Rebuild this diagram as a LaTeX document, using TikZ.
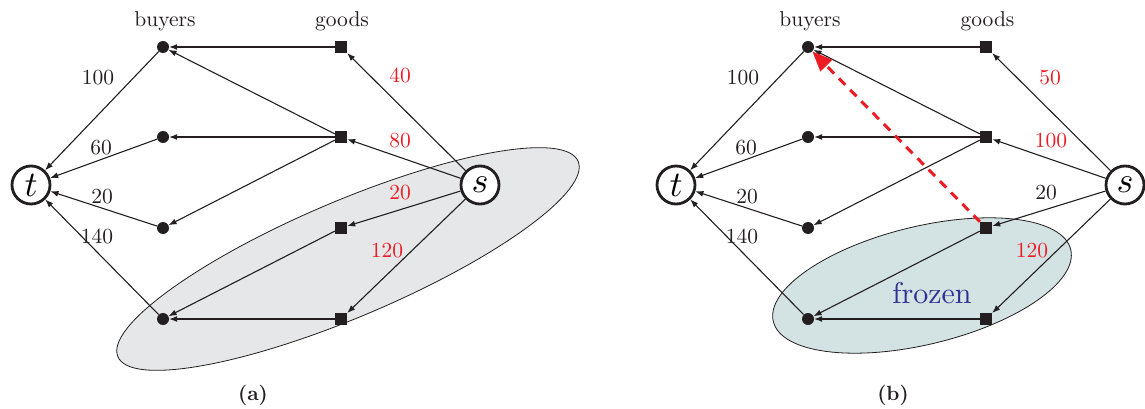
\documentclass[tikz,border=0pt]{standalone}
\usepackage{fontspec}
\setmainfont{lmroman10-regular.otf}[BoldFont=lmroman10-bold.otf, ItalicFont=lmroman10-italic.otf]
\usetikzlibrary{arrows.meta}
\font\termfont=cmmi10 at 36pt
\definecolor{ink}{RGB}{35,31,32}
\definecolor{lbred}{RGB}{237,28,36}
\definecolor{greyfill}{RGB}{230,231,232}
\definecolor{frozenfill}{RGB}{211,226,226}
\definecolor{frozenblue}{RGB}{46,49,146}
\begin{document}
\begin{tikzpicture}[x=1pt,y=-1pt,
  buyer/.style={circle, fill=ink, inner sep=0pt, minimum size=12pt},
  good/.style={rectangle, fill=ink, inner sep=0pt, minimum size=12pt},
  term/.style={circle, draw=ink, line width=2.8pt, fill=white, inner sep=0pt, minimum size=38pt, font=\termfont},
  flow/.style={-{Latex[length=8pt,width=6pt]}, line width=1.1pt, draw=ink},
  lab/.style={anchor=base, inner sep=0pt, text=ink, font=\fontsize{21.5}{25}\selectfont},
  redlab/.style={lab, text=lbred},
  captext/.style={anchor=base, inner sep=0pt, text=ink, font=\fontsize{20.5}{24}\selectfont\bfseries},
  region/.style={draw=ink, line width=0.8pt},
  redarrow/.style={draw=lbred, line width=3pt, dash pattern=on 9pt off 7pt, -{Triangle[length=20pt,width=16pt]}}
]
\useasboundingbox (0,0) rectangle (1145,409);

% ---- regions
\draw[region, fill=greyfill, rotate around={23:(348,259)}] (348,259) ellipse [x radius=250pt, y radius=58pt];
\draw[region, fill=frozenfill, rotate around={13.6:(922,285.5)}] (922,285.5) ellipse [x radius=153pt, y radius=59pt];

% ---- panel (a)
\node[term] (at) at (31,185) {t};
\node[term] (as) at (480,185) {s};
\node[buyer] (ab1) at (163,47) {};
\node[buyer] (ab2) at (163,137) {};
\node[buyer] (ab3) at (163,228) {};
\node[buyer] (ab4) at (163,319) {};
\node[good] (ag1) at (341,47) {};
\node[good] (ag2) at (341,137) {};
\node[good] (ag3) at (341,228) {};
\node[good] (ag4) at (341,319) {};
\node[lab] (abuy) at (165,26.5) {buyers};
\node[lab] (agood) at (342,26.5) {goods};

\draw[flow] (ag1) -- (ab1);
\draw[flow] (ag2) -- (ab1);
\draw[flow] (ag2) -- (ab2);
\draw[flow] (ag2) -- (ab3);
\draw[flow] (ag3) -- (ab4);
\draw[flow] (ag4) -- (ab4);
\draw[flow] (ab1) -- (at);
\draw[flow] (ab2) -- (at);
\draw[flow] (ab3) -- (at);
\draw[flow] (ab4) -- (at);
\draw[flow] (as) -- (ag1);
\draw[flow] (as) -- (ag2);
\draw[flow] (as) -- (ag3);
\draw[flow] (as) -- (ag4);

\node[lab] (al100) at (98,85) {100};
\node[lab] (al60) at (101,154) {60};
\node[lab] (al20) at (102,203) {20};
\node[lab] (al140) at (97,243) {140};
\node[redlab] (al40) at (400,83) {40};
\node[redlab] (al80) at (400,147) {80};
\node[redlab] (al20r) at (400,199) {20};
\node[redlab] (al120) at (387,257) {120};
\node[captext] (acap) at (253,400) {(a)};

% ---- panel (b)
\node[term] (bt) at (676,185) {t};
\node[term] (bs) at (1125,185) {s};
\node[buyer] (bb1) at (808,47) {};
\node[buyer] (bb2) at (808,137) {};
\node[buyer] (bb3) at (808,228) {};
\node[buyer] (bb4) at (808,319) {};
\node[good] (bg1) at (986,47) {};
\node[good] (bg2) at (986,137) {};
\node[good] (bg3) at (986,228) {};
\node[good] (bg4) at (986,319) {};
\node[lab] (bbuy) at (810,26.5) {buyers};
\node[lab] (bgood) at (987.5,26.5) {goods};

\draw[flow] (bg1) -- (bb1);
\draw[flow] (bg2) -- (bb1);
\draw[flow] (bg2) -- (bb2);
\draw[flow] (bg2) -- (bb3);
\draw[flow] (bg3) -- (bb4);
\draw[flow] (bg4) -- (bb4);
\draw[flow] (bb1) -- (bt);
\draw[flow] (bb2) -- (bt);
\draw[flow] (bb3) -- (bt);
\draw[flow] (bb4) -- (bt);
\draw[flow] (bs) -- (bg1);
\draw[flow] (bs) -- (bg2);
\draw[flow] (bs) -- (bg3);
\draw[flow] (bs) -- (bg4);

\node[lab] (bl100) at (743,85) {100};
\node[lab] (bl60) at (746,154) {60};
\node[lab] (bl20) at (747,203) {20};
\node[lab] (bl140) at (742,243) {140};
\node[redlab] (bl50) at (1050,85) {50};
\node[redlab] (bl100r) at (1051,147) {100};
\node[lab] (bl20b) at (1046,199) {20};
\node[redlab] (bl120) at (1032,257) {120};
\node[anchor=base, inner sep=0pt, text=frozenblue, font=\fontsize{30}{34}\selectfont] (frz) at (932,303) {frozen};
\node[captext] (bcap) at (893,400) {(b)};

\draw[redarrow] (bg3) -- (bb1);
\end{tikzpicture}
\end{document}
